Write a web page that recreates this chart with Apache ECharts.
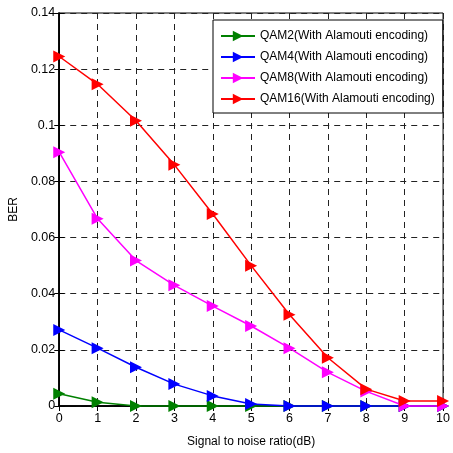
<!DOCTYPE html>
<html><head><meta charset="utf-8">
<script src="https://cdn.jsdelivr.net/npm/echarts@6/dist/echarts.min.js"></script>
<style>html,body{margin:0;padding:0;background:#fff}#c{width:453px;height:453px}</style>
</head><body><div id="c"></div>
<script>
const snr = [0,1,2,3,4,5,6,7,8,9,10];
const qam2  = [0.0044,0.0013,0,0,0,0,0,0,0,0,0];
const qam4  = [0.0271,0.0206,0.0138,0.0078,0.0036,0.0007,0,0,0,0,0];
const qam8  = [0.0904,0.0667,0.0518,0.0430,0.0356,0.0285,0.0206,0.0120,0.0052,0,0];
const qam16 = [0.1245,0.1146,0.1016,0.0859,0.0684,0.0500,0.0325,0.0172,0.0060,0.0018,0.0018];
const names = ['QAM2(With Alamouti encoding)','QAM4(With Alamouti encoding)','QAM8(With Alamouti encoding)','QAM16(With Alamouti encoding)'];
const colors = ['#008000','#0000ff','#ff00ff','#ff0000'];
const seriesData = [qam2,qam4,qam8,qam16];
const font = 'Liberation Sans, Arial, sans-serif';
const chart = echarts.init(document.getElementById('c'), null, {renderer:'canvas'});
const gridLine = {show:true, lineStyle:{color:'#222', type:[6,5], width:1}};
chart.setOption({
  animation:false,
  backgroundColor:'#fff',
  grid:{left:55, right:5, top:13, bottom:45, show:true, borderColor:'#000', borderWidth:1},
  legend:{
    orient:'vertical', left:213, top:20,
    backgroundColor:'#fff', borderColor:'#000', borderWidth:1,
    padding:[10,8,8,7], itemGap:9, itemWidth:34, itemHeight:13,
    textStyle:{fontFamily:font, fontSize:12, color:'#000'},
    data:names
  },
  xAxis:[{
    type:'value', min:0, max:10, interval:1,
    name:'Signal to noise ratio(dB)', nameLocation:'middle', nameGap:30,
    nameTextStyle:{fontFamily:font, fontSize:12, color:'#000'},
    axisLine:{show:true, onZero:false, lineStyle:{color:'#000', width:1.5}},
    axisTick:{show:true, inside:true, length:5, lineStyle:{color:'#000'}},
    axisLabel:{fontFamily:font, fontSize:12.5, color:'#000', margin:6},
    splitLine:gridLine
  },{
    type:'value', min:0, max:10, interval:1, position:'top',
    axisLine:{show:true, lineStyle:{color:'#000', width:1.5}},
    axisTick:{show:true, inside:true, length:5, lineStyle:{color:'#000'}},
    axisLabel:{show:false}, splitLine:{show:false}
  }],
  yAxis:[{
    type:'value', min:0, max:0.14, interval:0.02,
    name:'BER', nameLocation:'middle', nameGap:38, nameRotate:90,
    nameTextStyle:{fontFamily:font, fontSize:12, color:'#000'},
    axisLine:{show:true, onZero:false, lineStyle:{color:'#000', width:1.5}},
    axisTick:{show:true, inside:true, length:5, lineStyle:{color:'#000'}},
    axisLabel:{fontFamily:font, fontSize:12.5, color:'#000', margin:4,
      formatter:v=>String(+v.toFixed(2))},
    splitLine:gridLine
  },{
    type:'value', min:0, max:0.14, interval:0.02, position:'right',
    axisLine:{show:true, lineStyle:{color:'#000', width:1.5}},
    axisTick:{show:true, inside:true, length:5, lineStyle:{color:'#000'}},
    axisLabel:{show:false}, splitLine:{show:false}
  }],
  series: seriesData.map((d,i)=>({
    name:names[i], type:'line',
    data:snr.map((x,j)=>[x,d[j]]),
    symbol:'triangle', symbolRotate:-90, symbolSize:12,
    lineStyle:{color:colors[i], width:1.5},
    itemStyle:{color:colors[i]},
    clip:false, z:2+i
  }))
});
</script></body></html>
